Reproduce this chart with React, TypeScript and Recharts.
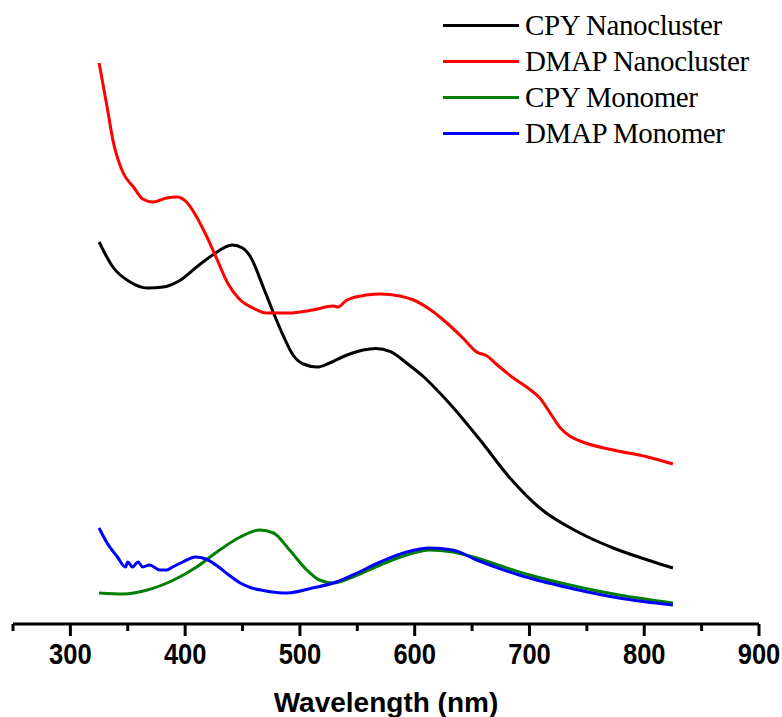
// UV-vis absorption spectra of the CPY / DMAP nanoclusters and their monomers.
// No y axis in the source figure, so absorbance is in arbitrary units (domain 0..3).
import { LineChart, Line, XAxis, YAxis } from 'recharts';

const xTicks = [250, 300, 350, 400, 450, 500, 550, 600, 650, 700, 750, 800, 850, 900];

const cpyNanoWl = [325, 337, 352, 367, 381, 396, 410, 424, 441, 450, 457, 468, 477, 486, 494, 503, 515, 526, 541, 555, 566, 579, 594, 608, 616, 630, 657, 683, 709, 744, 773, 803, 825];
const cpyNanoAbs = [1.91, 1.785, 1.71, 1.68, 1.685, 1.72, 1.785, 1.845, 1.895, 1.88, 1.835, 1.685, 1.555, 1.435, 1.345, 1.3, 1.285, 1.305, 1.345, 1.37, 1.378, 1.362, 1.3, 1.235, 1.19, 1.105, 0.92, 0.73, 0.58, 0.455, 0.38, 0.32, 0.28];

const dmapNanoWl = [325, 332, 337, 346, 355, 363, 372, 384, 393, 402, 410, 419, 428, 437, 448, 459, 471, 489, 511, 529, 533, 541, 558, 570, 587, 599, 614, 628, 642, 654, 663, 672, 686, 701, 709, 718, 727, 735, 744, 773, 803, 825];
const dmapNanoAbs = [2.805, 2.585, 2.42, 2.255, 2.185, 2.125, 2.11, 2.13, 2.135, 2.105, 2.035, 1.935, 1.82, 1.705, 1.62, 1.58, 1.555, 1.555, 1.57, 1.59, 1.585, 1.62, 1.645, 1.65, 1.64, 1.62, 1.57, 1.505, 1.43, 1.36, 1.34, 1.295, 1.23, 1.17, 1.13, 1.055, 0.98, 0.94, 0.915, 0.87, 0.835, 0.8];

const cpyMonoWl = [325, 346, 367, 390, 410, 430, 448, 465, 477, 491, 506, 517, 529, 546, 570, 593, 613, 633, 654, 691, 735, 778, 825];
const cpyMonoAbs = [0.155, 0.15, 0.17, 0.22, 0.285, 0.37, 0.435, 0.47, 0.455, 0.37, 0.27, 0.22, 0.205, 0.235, 0.295, 0.345, 0.37, 0.36, 0.33, 0.26, 0.195, 0.145, 0.105];

const dmapMonoWl = [325, 332, 341, 348, 350, 354, 359, 363, 369, 378, 384, 389, 398, 409, 418, 428, 437, 448, 458, 468, 489, 511, 529, 546, 570, 593, 613, 633, 654, 691, 735, 778, 825];
const dmapMonoAbs = [0.48, 0.405, 0.335, 0.285, 0.31, 0.285, 0.31, 0.285, 0.295, 0.27, 0.27, 0.285, 0.31, 0.335, 0.325, 0.29, 0.25, 0.205, 0.18, 0.168, 0.155, 0.18, 0.205, 0.245, 0.31, 0.36, 0.38, 0.37, 0.32, 0.245, 0.18, 0.13, 0.095];

const zip = (wl: number[], abs: number[]) => wl.map((w, i) => ({ wl: w, abs: abs[i] }));

const series = [
  { name: 'CPY Nanocluster', color: '#000000', data: zip(cpyNanoWl, cpyNanoAbs) },
  { name: 'DMAP Nanocluster', color: '#ff0000', data: zip(dmapNanoWl, dmapNanoAbs) },
  { name: 'CPY Monomer', color: '#007f00', data: zip(cpyMonoWl, cpyMonoAbs) },
  { name: 'DMAP Monomer', color: '#0000ff', data: zip(dmapMonoWl, dmapMonoAbs) },
];

const sansFont = "'Liberation Sans', Arial, sans-serif";

// major ticks every 100 nm get a label and a longer mark; labels are squeezed like the original
function WlTick({ x, y, payload }: { x?: number; y?: number; payload?: { value: number } }) {
  if (x == null || y == null || !payload) return null;
  const major = payload.value % 100 === 0;
  return (
    <g>
      <line x1={x} x2={x} y1={y} y2={y + (major ? 12 : 7)} stroke="#000" strokeWidth={3} />
      {major && payload.value > 250 && (
        <text transform={`translate(${x},${y + 40}) scale(0.88,1)`} textAnchor="middle"
          fontFamily={sansFont} fontWeight="bold" fontSize={29} fill="#000">
          {payload.value}
        </text>
      )}
    </g>
  );
}

function AxisTitle({ viewBox }: { viewBox?: { x: number; y: number; width: number } }) {
  if (!viewBox) return null;
  return (
    <text x={viewBox.x + viewBox.width / 2} y={viewBox.y + 88} textAnchor="middle"
      fontFamily={sansFont} fontWeight="bold" fontSize={28} fill="#000">
      Wavelength (nm)
    </text>
  );
}

export default function App() {
  return (
    <div style={{ position: 'absolute', left: 0, top: 0, width: 782, height: 717, background: '#fff' }}>
      <LineChart width={782} height={717} margin={{ top: 24, right: 23, bottom: 0, left: 13 }}>
        <XAxis dataKey="wl" type="number" domain={[250, 900]} ticks={xTicks} interval={0}
          allowDataOverflow height={93} tickSize={0} tickMargin={0} tickLine={false}
          axisLine={{ stroke: '#000', strokeWidth: 3 }} tick={<WlTick />} label={<AxisTitle />} />
        <YAxis type="number" domain={[0, 3]} hide />
        {series.map((s) => (
          <Line key={s.name} data={s.data} dataKey="abs" name={s.name} type="monotone"
            stroke={s.color} strokeWidth={3} dot={false} isAnimationActive={false} />
        ))}
      </LineChart>
      <div style={{ position: 'absolute', left: 443, top: 7, fontFamily: "'Liberation Serif', 'Times New Roman', serif", fontSize: 29 }}>
        {series.map((s) => (
          <div key={s.name} style={{ display: 'flex', alignItems: 'center', height: 36 }}>
            <span style={{ width: 76, height: 3, background: s.color, marginRight: 6 }} />
            <span style={{ lineHeight: '36px', letterSpacing: -0.4 }}>{s.name}</span>
          </div>
        ))}
      </div>
    </div>
  );
}
